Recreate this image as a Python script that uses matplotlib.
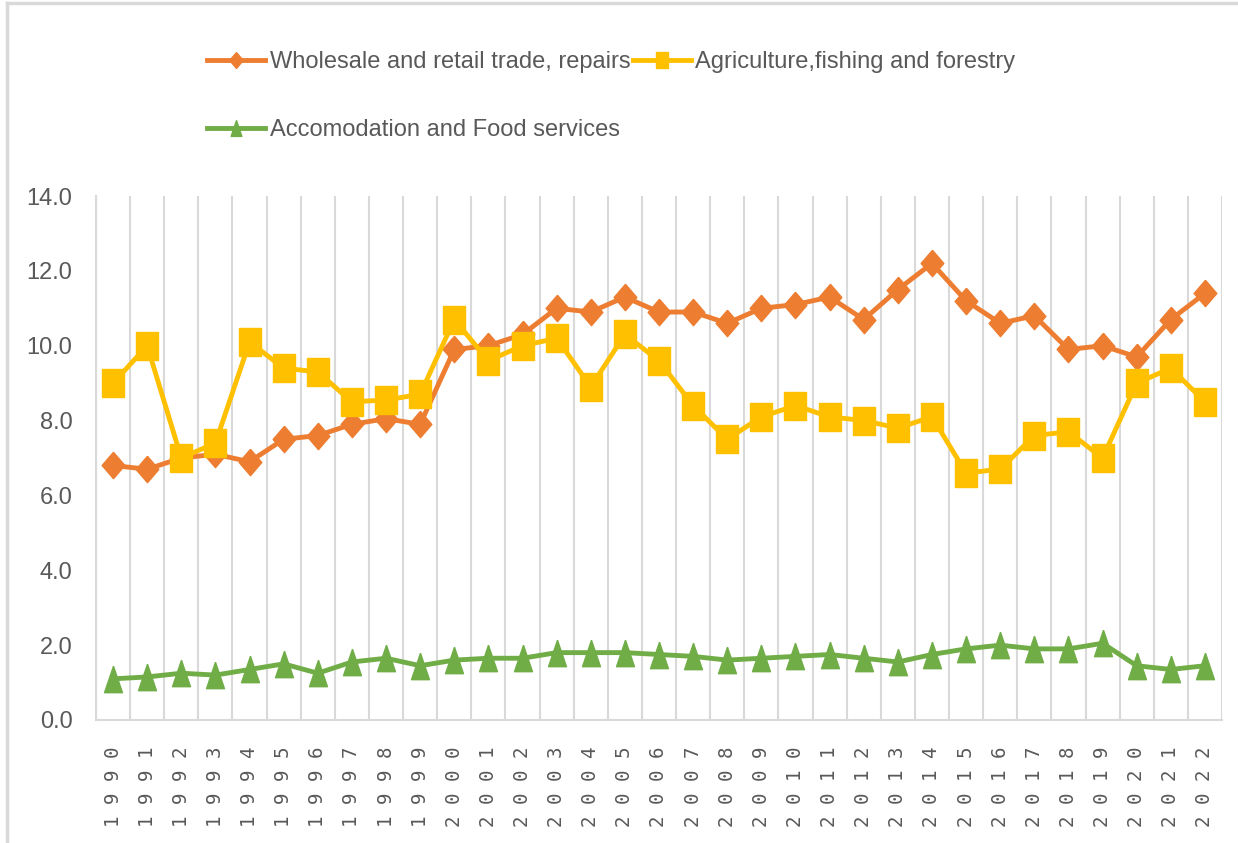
import matplotlib
matplotlib.use("Agg")
import matplotlib.pyplot as plt
from matplotlib.lines import Line2D

years = list(range(1990, 2023))

wholesale = [6.8, 6.7, 7.0, 7.1, 6.9, 7.5, 7.6, 7.9, 8.05, 7.9,
             9.9, 10.0, 10.3, 11.0, 10.9, 11.3, 10.9, 10.9, 10.6, 11.0,
             11.1, 11.3, 10.7, 11.5, 12.2, 11.2, 10.6, 10.8, 9.9, 10.0,
             9.7, 10.7, 11.4]
agriculture = [9.0, 10.0, 7.0, 7.4, 10.1, 9.4, 9.3, 8.5, 8.55, 8.7,
               10.7, 9.6, 10.0, 10.2, 8.9, 10.3, 9.6, 8.4, 7.5, 8.1,
               8.4, 8.1, 8.0, 7.8, 8.1, 6.6, 6.7, 7.6, 7.7, 7.0,
               9.0, 9.4, 8.5]
accomodation = [1.1, 1.15, 1.25, 1.2, 1.35, 1.5, 1.25, 1.55, 1.65, 1.45,
                1.6, 1.65, 1.65, 1.8, 1.8, 1.8, 1.75, 1.7, 1.6, 1.65,
                1.7, 1.75, 1.65, 1.55, 1.75, 1.9, 2.0, 1.9, 1.9, 2.05,
                1.45, 1.35, 1.45]

series_names = ["Wholesale and retail trade, repairs",
                "Agriculture,fishing and forestry",
                "Accomodation and Food services"]

ORANGE = "#ED7D31"
YELLOW = "#FFC000"
GREEN = "#70AD47"
GRID = "#D9D9D9"
TEXT = "#595959"

# slightly tall markers (the chart was exported a bit squeezed)
diamond = [(0, 0.5), (0.43, 0), (0, -0.5), (-0.43, 0), (0, 0.5)]
square = [(-0.38, -0.5), (0.38, -0.5), (0.38, 0.5), (-0.38, 0.5), (-0.38, -0.5)]
triangle = [(0, 0.5), (0.34, -0.5), (-0.34, -0.5), (0, 0.5)]

plt.rcParams['font.family'] = ['Liberation Sans', 'DejaVu Sans']

fig = plt.figure(figsize=(12.38, 8.43), dpi=100)
ax = fig.add_axes([96 / 1238, 123 / 843, 1126 / 1238, 524 / 843])

x = list(range(len(years)))
l1, = ax.plot(x, wholesale, color=ORANGE, lw=3.5, marker=diamond, ms=19,
              label=series_names[0], zorder=3)
l2, = ax.plot(x, agriculture, color=YELLOW, lw=3.5, marker=square, ms=20,
              label=series_names[1], zorder=4)
l3, = ax.plot(x, accomodation, color=GREEN, lw=3.5, marker=triangle, ms=19,
              label=series_names[2], zorder=5)

ax.set_xlim(-0.5, len(years) - 0.5)
ax.set_ylim(0, 14)
ax.set_yticks([0, 2, 4, 6, 8, 10, 12, 14])
ax.set_yticklabels([f"{v:.1f}" for v in range(0, 15, 2)], color=TEXT, fontsize=17)

# vertical grid lines between the year categories
for b in range(len(years) + 1):
    ax.axvline(b - 0.5, color=GRID, lw=1.5, zorder=1)

ax.set_xticks(x)
ax.set_xticklabels([" ".join(str(y)) for y in years], rotation=90,
                   family="DejaVu Sans Mono", fontsize=13.8, color=TEXT,
                   va="top", ha="center")
ax.tick_params(axis="x", length=0, pad=19)
ax.tick_params(axis="y", length=0, pad=17)

for side in ["top", "right"]:
    ax.spines[side].set_visible(False)
for side in ["left", "bottom"]:
    ax.spines[side].set_color(GRID)
    ax.spines[side].set_linewidth(1.5)

# legend: two entries on the first row, one on the second
leg = fig.legend([l1, l3, l2], [series_names[0], series_names[2], series_names[1]],
                 ncol=2, loc="upper left", bbox_to_anchor=(186 / 1238, 1 - 30 / 843),
                 frameon=False, fontsize=17, handlelength=2.45, handletextpad=0.2,
                 columnspacing=0.1, labelspacing=1.95, markerscale=0.6)
for t in leg.get_texts():
    t.set_color(TEXT)

# outer chart frame (left and top edges)
fig.add_artist(Line2D([7 / 1238, 7 / 1238], [0, 1 - 3 / 843], color=GRID, lw=2.5,
                      transform=fig.transFigure))
fig.add_artist(Line2D([7 / 1238, 1], [1 - 3 / 843, 1 - 3 / 843], color=GRID, lw=2.5,
                      transform=fig.transFigure))

fig.savefig("out.png", dpi=100)
